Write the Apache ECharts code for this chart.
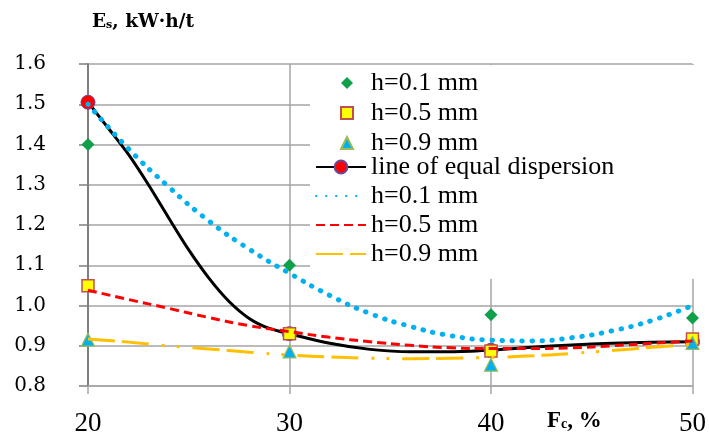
<!DOCTYPE html>
<html>
<head>
<meta charset="utf-8">
<title>Es vs Fc</title>
<script src="https://cdn.jsdelivr.net/npm/echarts@6/dist/echarts.min.js"></script>
<style>
  html, body { margin: 0; padding: 0; background: #fff; }
  #main { width: 709px; height: 437px; }
</style>
</head>
<body>
<div id="main"></div>
<script>
// measured points
const fcValues = [20, 30, 40, 50];
const h01Points = [1.40, 1.10, 0.977, 0.969];
const h05Points = [1.049, 0.930, 0.887, 0.917];
const h09Points = [0.915, 0.886, 0.853, 0.907];

// line of equal dispersion (markers sit at fcValues)
const eqCurveFc = [20, 21, 22, 23, 24, 25, 26, 27, 28, 29, 30, 32, 34, 36, 38, 40, 42, 44, 46, 48, 50];
const eqCurveEs = [1.505, 1.441, 1.376, 1.30, 1.218, 1.138, 1.068, 1.010, 0.968, 0.943, 0.930, 0.906, 0.891, 0.885, 0.885, 0.889, 0.896, 0.902, 0.906, 0.909, 0.91];

// trend curves
const trendFc = [20, 22, 24, 26, 28, 30, 32, 34, 36, 38, 40, 42, 44, 46, 48, 50];
const trendH01 = [1.50, 1.39, 1.295, 1.21, 1.14, 1.08, 1.025, 0.98, 0.948, 0.925, 0.914, 0.912, 0.92, 0.937, 0.963, 1.0];
const trendH05 = [1.038, 1.015, 0.993, 0.97, 0.95, 0.935, 0.921, 0.91, 0.901, 0.895, 0.893, 0.893, 0.895, 0.90, 0.906, 0.912];
const trendH09 = [0.917, 0.909, 0.90, 0.892, 0.884, 0.877, 0.872, 0.869, 0.868, 0.869, 0.871, 0.875, 0.881, 0.888, 0.896, 0.904];

const xTicks = [20, 30, 40, 50];
const yTicks = [0.8, 0.9, 1.0, 1.1, 1.2, 1.3, 1.4, 1.5, 1.6];

const pointNames = ['h=0.1 mm', 'h=0.5 mm', 'h=0.9 mm'];
const lineNames = ['line of equal dispersion', 'h=0.1 mm ', 'h=0.5 mm ', 'h=0.9 mm '];

function pairs(xs, ys) {
  return xs.map((x, i) => [x, ys[i]]);
}

const serif = 'Liberation Serif';
const legendText = { fontFamily: serif, fontSize: 26, color: '#000', lineHeight: 20 };

// only the measured positions get a red circle
const eqCurveData = eqCurveFc.map((x, i) =>
  fcValues.includes(x) ? [x, eqCurveEs[i]] : { value: [x, eqCurveEs[i]], symbol: 'none' }
);

let chart = echarts.init(document.getElementById('main'));
let option = {
  backgroundColor: '#fff',
  animation: false,
  title: [
    {
      text: '{a|E}{b|s}{a|, kW·h/t}',
      left: 92,
      top: 13,
      padding: 0,
      textStyle: {
        rich: {
          a: { fontFamily: 'DejaVu Serif', fontWeight: 'bold', fontSize: 18.5, color: '#000' },
          b: { fontFamily: 'DejaVu Serif', fontWeight: 'bold', fontSize: 11, color: '#000', padding: [6, 0, 0, 0] }
        }
      }
    },
    {
      text: '{a|F}{b|c}{a|, %}',
      left: 547,
      top: 410,
      padding: 0,
      textStyle: {
        rich: {
          a: { fontFamily: serif, fontWeight: 'bold', fontSize: 23, color: '#000' },
          b: { fontFamily: serif, fontWeight: 'bold', fontSize: 14, color: '#000', padding: [6, 0, 0, 0] }
        }
      }
    }
  ],
  legend: [
    {
      // line items, this one also carries the white box
      data: lineNames.map((n, i) => (i === 0 ? n : { name: n, itemStyle: { opacity: 0 } })),
      orient: 'vertical',
      left: 310,
      top: 65,
      padding: [89, 80, 12, 5],
      backgroundColor: '#fff',
      itemWidth: 50,
      itemHeight: 16,
      itemGap: 3,
      textStyle: legendText
    },
    {
      // marker-only items
      data: pointNames,
      orient: 'vertical',
      left: 340,
      top: 70,
      padding: 0,
      z: 5,
      itemWidth: 12,
      itemHeight: 12,
      itemGap: 4,
      textStyle: Object.assign({ padding: [0, 0, 0, 13] }, legendText)
    }
  ],
  grid: { left: 88, right: 15, top: 64, bottom: 49.5 },
  xAxis: {
    type: 'value',
    min: 20,
    max: 50,
    interval: 10,
    axisLine: { show: true, lineStyle: { color: '#a5a5a5', width: 1.5 } },
    axisTick: { show: true, length: 8, lineStyle: { color: '#a5a5a5', width: 1.5 } },
    axisLabel: {
      margin: 24,
      fontFamily: serif,
      fontSize: 27,
      color: '#000',
      formatter: v => (xTicks.includes(v) ? String(v) : '')
    },
    splitLine: { show: true, lineStyle: { color: '#a5a5a5', width: 1.5 } }
  },
  yAxis: {
    type: 'value',
    min: 0.8,
    max: 1.6,
    interval: 0.1,
    axisLine: { show: true, lineStyle: { color: '#7f7f7f', width: 2 } },
    axisTick: { show: true, length: 9, lineStyle: { color: '#7f7f7f', width: 1.5 } },
    axisLabel: {
      margin: 42,
      fontFamily: 'DejaVu Serif',
      fontSize: 20,
      color: '#000',
      padding: [6, 0, 0, 0],
      formatter: v => {
        const t = yTicks.find(y => Math.abs(y - v) < 1e-6);
        return t === undefined ? '' : t.toFixed(1);
      }
    },
    splitLine: { show: true, lineStyle: { color: '#a5a5a5', width: 1.5 } }
  },
  series: [
    {
      name: 'line of equal dispersion',
      type: 'line',
      smooth: 0.3,
      z: 2,
      data: eqCurveData,
      showAllSymbol: true,
      lineStyle: { color: '#000', width: 3 },
      symbol: 'circle',
      symbolSize: 14,
      itemStyle: { color: '#ff0000', borderColor: '#6a4a9a', borderWidth: 1 }
    },
    {
      name: 'h=0.1 mm',
      type: 'scatter',
      z: 3,
      data: pairs(fcValues, h01Points),
      symbol: 'diamond',
      symbolSize: 13,
      itemStyle: { color: '#10a04c', opacity: 1 }
    },
    {
      name: 'h=0.5 mm',
      type: 'scatter',
      z: 3,
      data: pairs(fcValues, h05Points),
      symbol: 'rect',
      symbolSize: 12,
      itemStyle: { color: '#ffff00', borderColor: '#c0504d', borderWidth: 1.5, opacity: 1 }
    },
    {
      name: 'h=0.9 mm',
      type: 'scatter',
      z: 3,
      data: pairs(fcValues, h09Points),
      symbol: 'triangle',
      symbolSize: 13,
      itemStyle: { color: '#00b0f0', borderColor: '#9bbb59', borderWidth: 1.2, opacity: 1 }
    },
    {
      name: 'h=0.1 mm ',
      type: 'line',
      smooth: true,
      z: 4,
      showSymbol: false,
      symbol: 'none',
      data: pairs(trendFc, trendH01),
      itemStyle: { color: '#00b0f0' },
      lineStyle: { color: '#00b0f0', width: 5, type: [0.5, 9.5], cap: 'round' }
    },
    {
      name: 'h=0.5 mm ',
      type: 'line',
      smooth: true,
      z: 4,
      showSymbol: false,
      symbol: 'none',
      data: pairs(trendFc, trendH05),
      itemStyle: { color: '#ff0000' },
      lineStyle: { color: '#ff0000', width: 3, type: [9, 5] }
    },
    {
      name: 'h=0.9 mm ',
      type: 'line',
      smooth: true,
      z: 4,
      showSymbol: false,
      symbol: 'none',
      data: pairs(trendFc, trendH09),
      itemStyle: { color: '#ffc000' },
      lineStyle: { color: '#ffc000', width: 3, type: [27, 7, 27, 13, 3, 12, 3, 13] }
    }
  ]
};
chart.setOption(option);
</script>
</body>
</html>
